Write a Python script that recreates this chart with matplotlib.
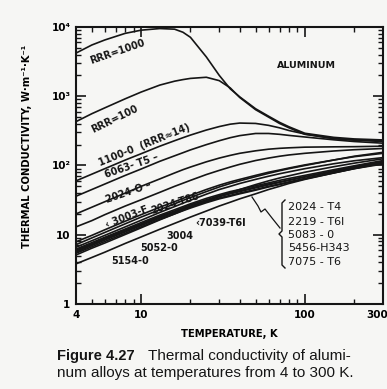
import numpy as np
import matplotlib
matplotlib.use("Agg")
import matplotlib.pyplot as plt
import matplotlib.transforms as mtransforms
from matplotlib.ticker import FixedLocator, NullFormatter

# ---- data ----
T = [4, 5, 6, 8, 10, 13, 16, 18, 20, 25, 30, 35, 40, 50, 60, 70, 80, 100, 150, 200, 300]

rrr1000 = [4200, 5500, 6500, 8100, 9000, 9500, 9300, 8400, 7100, 3700, 2000, 1280, 980, 660, 515, 420, 362, 292, 255, 242, 234]
rrr100 = [430, 560, 680, 920, 1150, 1450, 1650, 1740, 1810, 1880, 1680, 1320, 960, 640, 500, 405, 350, 282, 245, 235, 228]
al1100 = [60, 75, 90, 120, 148, 190, 228, 252, 275, 325, 365, 395, 410, 405, 380, 350, 320, 285, 245, 232, 222]
al6063 = [36, 45, 54, 72, 89, 115, 138, 153, 168, 200, 228, 252, 270, 290, 290, 282, 272, 258, 235, 222, 210]
al2024o = [20, 25, 30, 40, 50, 64, 78, 87, 95, 113, 128, 140, 150, 163, 172, 177, 180, 184, 186, 187, 190]
al3003f = [13, 16, 19.5, 26, 32, 41, 50, 55.5, 61, 74, 85, 95, 104, 118, 128, 136, 142, 150, 162, 169, 176]
al2024t86 = [7.9, 9.8, 11.8, 15.7, 19.5, 25, 30, 33.5, 37, 45, 52, 58, 63, 72, 80, 86, 92, 102, 120, 134, 150]
al3004 = [7.2, 9.0, 10.8, 14.4, 18, 23, 28, 31.3, 34.5, 42, 49, 55, 60, 69, 77, 84, 90, 100, 120, 136, 155]
al7039 = [6.6, 8.2, 9.8, 13, 16.2, 21, 25.5, 28.5, 31.5, 38.5, 45, 50, 55, 63, 70, 76, 81, 90, 106, 117, 130]
al2024t4 = [6.2, 7.7, 9.2, 12.1, 15, 19.2, 23, 25.5, 28, 33.5, 38, 42, 45, 51, 56, 61, 65, 72, 87, 99, 118]
al2219 = [6.0, 7.4, 8.9, 11.7, 14.4, 18.5, 22, 24.5, 27, 32, 36.5, 40, 43, 49, 54, 58, 62, 69, 84, 96, 114]
al5083o = [5.6, 7.0, 8.4, 11.0, 13.6, 17.4, 20.8, 23, 25.3, 30, 34, 37, 40, 45, 50, 54, 58, 65, 79, 91, 110]
al5456 = [5.4, 6.7, 8.0, 10.5, 13, 16.7, 20, 22.2, 24.3, 29, 33, 36, 39, 44, 49, 53, 57, 64, 78, 90, 108]
al7075 = [5.8, 7.2, 8.6, 11.3, 14, 18, 21.5, 23.8, 26, 31, 35.5, 39, 42, 47.5, 52.5, 57, 61, 68, 82, 94, 112]
al5052 = [5.1, 6.4, 7.6, 10.1, 12.6, 16.4, 20, 22.5, 25, 31, 36, 40.5, 45, 53, 60, 66, 71, 80, 96, 108, 125]
al5154 = [3.8, 4.7, 5.6, 7.5, 9.3, 12, 14.6, 16.3, 18, 22, 26, 29.5, 33, 39, 45, 50, 55, 63, 78, 90, 105]

series = [rrr1000, rrr100, al1100, al6063, al2024o, al3003f, al2024t86, al3004,
          al7039, al2024t4, al2219, al5083o, al5456, al7075, al5052, al5154]

x_ticks = [4, 10, 100, 300]
x_ticklabels = ["4", "10", "100", "300"]
y_ticks = [1, 10, 100, 1000, 10000]
y_ticklabels = ["1", "10", "10²", "10³", "10⁴"]
bracket_names = ["2024 - T4", "2219 - T6l", "5083 - 0", "5456-H343", "7075 - T6"]

bg = "#f6f6f4"
ink = "#151515"
plt.rcParams["font.family"] = ["DejaVu Sans"]

fig = plt.figure(figsize=(3.87, 3.89), dpi=100, facecolor=bg)
ax = fig.add_axes([76/387, 85/389, 307/387, 277/389], facecolor=bg)

for s in series:
    ax.plot(T, s, color=ink, lw=1.2, solid_capstyle="round", solid_joinstyle="round")

ax.set_xscale("log")
ax.set_yscale("log")
ax.set_xlim(4, 300)
ax.set_ylim(1, 1e4)

ax.xaxis.set_major_locator(FixedLocator(x_ticks))
ax.set_xticklabels(x_ticklabels)
minor_x = [5, 6, 7, 8, 9, 20, 30, 40, 50, 60, 70, 80, 90, 200]
ax.xaxis.set_minor_locator(FixedLocator(minor_x))
ax.xaxis.set_minor_formatter(NullFormatter())
ax.yaxis.set_major_locator(FixedLocator(y_ticks))
ax.set_yticklabels(y_ticklabels)
minor_y = [m * 10**e for e in range(0, 4) for m in (2, 3, 4, 5, 6, 7, 8, 9)]
ax.yaxis.set_minor_locator(FixedLocator(minor_y))
ax.yaxis.set_minor_formatter(NullFormatter())

ax.tick_params(which="both", direction="in", top=True, right=True, color=ink)
ax.tick_params(which="major", length=7, width=1.2, labelsize=7.5, pad=4)
ax.tick_params(which="minor", length=3.5, width=1.0)
for lab in ax.get_xticklabels() + ax.get_yticklabels():
    lab.set_fontweight("bold")
# keep the last x label inside the picture
last = ax.get_xticklabels()[-1]
last.set_transform(last.get_transform() + mtransforms.ScaledTranslation(-6/100, 0, fig.dpi_scale_trans))
for sp in ax.spines.values():
    sp.set_linewidth(1.5)
    sp.set_color(ink)

ax.set_xlabel("TEMPERATURE, K", fontsize=7.2, fontweight="bold", labelpad=7)
ax.set_ylabel("THERMAL CONDUCTIVITY, W·m⁻¹·K⁻¹", fontsize=7.2, fontweight="bold")
ax.yaxis.set_label_coords(-0.143, 0.57)

lab_kw = dict(fontsize=7, fontweight="bold", color=ink, ha="center", va="center",
              rotation_mode="anchor")
plain_kw = dict(fontsize=7, fontweight="bold", color=ink, va="center")
ax.text(7.2, 4400, "RRR=1000", rotation=19, **lab_kw)
ax.text(6.9, 470, "RRR=100", rotation=26, **lab_kw)
ax.text(10.5, 198, "1100-0  (RRR≈14)", rotation=22, **lab_kw)
ax.text(8.7, 98, "6063- T5 –", rotation=19, **lab_kw)
ax.text(8.4, 41, "2024-O –", rotation=19, **lab_kw)
ax.text(8.2, 18, "‹ 3003-F", rotation=21, **lab_kw)
ax.text(16.1, 28.5, "2024-T86", rotation=18, **lab_kw)
ax.text(21.5, 14.8, "‹7039-T6l", ha="left", **plain_kw)
ax.text(17.3, 9.6, "3004", ha="center", **plain_kw)
ax.text(12.8, 6.4, "5052-0", ha="center", **plain_kw)
ax.text(8.55, 4.2, "5154-0", ha="center", **plain_kw)
ax.text(0.75, 0.86, "ALUMINUM", transform=ax.transAxes, fontsize=6.8, fontweight="bold",
        color=ink, ha="center", va="center")

# bracketed list
br_y = [25.2, 15.3, 9.9, 6.4, 4.05]
for name, yy in zip(bracket_names, br_y):
    ax.text(79, yy, name, fontsize=8, color=ink, ha="left", va="center")

# bracket and pointer drawn in axes-fraction coordinates
def px(xp, yp):
    return ((xp - 76) / 307, (304 - yp) / 277)

br = [px(285, 200), px(282, 203), px(282, 231), px(279, 234), px(282, 237), px(282, 265), px(285, 268)]
ax.plot([p[0] for p in br], [p[1] for p in br], transform=ax.transAxes, color=ink, lw=1.0, clip_on=False)
ptr = [px(252, 197), px(258, 206), px(261, 212), px(265, 209), px(272, 218), px(280, 228)]
ax.plot([p[0] for p in ptr], [p[1] for p in ptr], transform=ax.transAxes, color=ink, lw=0.9)

# caption
fig.text(57/387, 1 - 356/389, "Figure 4.27", fontsize=10.5, fontweight="bold",
         family=["Liberation Sans"], ha="left", va="center", color=ink)
fig.text(148/387, 1 - 356/389, "Thermal conductivity of alumi-", fontsize=11,
         family=["Liberation Sans"], ha="left", va="center", color=ink)
fig.text(57/387, 1 - 373/389, "num alloys at temperatures from 4 to 300 K.", fontsize=11,
         family=["Liberation Sans"], ha="left", va="center", color=ink)

fig.savefig("out.png", dpi=100, facecolor=bg)
